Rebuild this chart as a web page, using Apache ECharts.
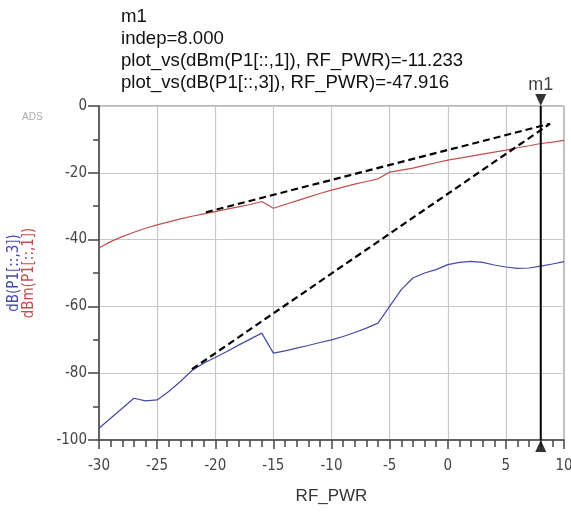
<!DOCTYPE html>
<html>
<head>
<meta charset="utf-8">
<script src="https://cdn.jsdelivr.net/npm/echarts@6/dist/echarts.min.js"></script>
<style>
  html, body { margin: 0; padding: 0; background: #fff; }
  #chart { width: 571px; height: 515px; }
</style>
</head>
<body>
<div id="chart"></div>
<script>
// RF input power sweep (dBm)
const rfPwr = [-30, -29, -28, -27, -26, -25, -24, -23, -22, -21, -20, -19, -18, -17, -16, -15,
  -14, -13, -12, -11, -10, -9, -8, -7, -6, -5, -4, -3, -2, -1, 0, 1, 2, 3, 4, 5, 6, 7, 8, 9, 10];
// Fundamental output, dBm(P1[::,1])
const fundDbm = [-42.5, -40.6, -39.1, -37.8, -36.6, -35.6, -34.7, -33.8, -33.0, -32.3, -31.6, -30.9,
  -30.2, -29.5, -28.6, -30.6, -29.5, -28.4, -27.3, -26.2, -25.2, -24.3, -23.4, -22.6, -21.8, -19.8,
  -19.2, -18.6, -17.8, -17.0, -16.2, -15.6, -15.0, -14.4, -13.8, -13.2, -12.5, -11.9, -11.233, -10.8, -10.3];
// Third harmonic, dB(P1[::,3])
const thirdDb = [-96.5, -93.5, -90.5, -87.5, -88.3, -88.0, -85.5, -82.5, -79.2, -77.0, -75.3, -73.5,
  -71.6, -69.8, -68.0, -74.0, -73.3, -72.5, -71.7, -70.8, -70.0, -69.0, -67.8, -66.5, -65.0, -60.0,
  -55.0, -51.5, -50.0, -49.0, -47.5, -46.8, -46.5, -46.8, -47.6, -48.2, -48.6, -48.5, -47.916, -47.3, -46.6];
// Extrapolated small-signal slopes
const fundSlope = [[-20.8, -31.8], [8.8, -5.3]];
const thirdSlope = [[-22.0, -78.8], [8.8, -5.3]];
// Marker m1
const markerName = 'm1';
const markerX = 8;
// Axis extents and steps
const xRange = [-30, 10];
const yRange = [-100, 0];
const xStep = 5;
const yStep = 20;

const mi = rfPwr.indexOf(markerX);
const readout = [
  markerName,
  'indep=' + markerX.toFixed(3),
  'plot_vs(dBm(P1[::,1]), RF_PWR)=' + fundDbm[mi].toFixed(3),
  'plot_vs(dB(P1[::,3]), RF_PWR)=' + thirdDb[mi].toFixed(3)
].join('\n');

const pairs = (ys) => rfPwr.map((x, i) => [x, ys[i]]);
const FONT = 'Liberation Sans, Arial, sans-serif';
const NARROW = '"Liberation Sans Narrow", "DejaVu Sans Condensed", "Liberation Sans", sans-serif';

const chart = echarts.init(document.getElementById('chart'), null, { renderer: 'canvas' });
chart.setOption({
  animation: false,
  backgroundColor: '#ffffff',
  grid: {
    left: 99, right: 7, top: 106, bottom: 75,
    outerBoundsMode: 'none', containLabel: false,
    show: true, borderColor: '#777', borderWidth: 1
  },
  xAxis: {
    type: 'value', min: xRange[0], max: xRange[1], interval: xStep,
    name: 'RF_PWR', nameLocation: 'middle', nameGap: 48,
    nameTextStyle: { fontFamily: FONT, fontSize: 17, color: '#333' },
    axisLine: { show: true, onZero: false, lineStyle: { color: '#444', width: 1.5 } },
    axisTick: { show: true, length: 9, lineStyle: { color: '#444', width: 1.5 } },
    minorTick: { show: true, splitNumber: 5, length: 7, lineStyle: { color: '#444', width: 1.5 } },
    axisLabel: { margin: 19, fontFamily: NARROW, fontSize: 15, color: '#444' },
    splitLine: { show: true, lineStyle: { color: '#c8c8c8', width: 1.2 } }
  },
  yAxis: {
    type: 'value', min: yRange[0], max: yRange[1], interval: yStep,
    name: '{b|dB(P1[::,3])}\n{r|dBm(P1[::,1])}',
    nameLocation: 'middle', nameRotate: 90, nameGap: 62,
    nameTextStyle: {
      fontFamily: NARROW, fontSize: 15, lineHeight: 15,
      rich: {
        b: { fontFamily: NARROW, fontSize: 15, lineHeight: 15, color: '#4848a8' },
        r: { fontFamily: NARROW, fontSize: 15, lineHeight: 15, color: '#c05050' }
      }
    },
    axisLine: { show: true, onZero: false, lineStyle: { color: '#444', width: 1.5 } },
    axisTick: { show: true, length: 11, lineStyle: { color: '#444', width: 1.5 } },
    minorTick: { show: true, splitNumber: 2, length: 6, lineStyle: { color: '#444', width: 1.5 } },
    axisLabel: { margin: 12, fontFamily: NARROW, fontSize: 15, color: '#444' },
    splitLine: { show: true, lineStyle: { color: '#c8c8c8', width: 1.2 } }
  },
  graphic: [
    {
      type: 'text', left: 121, top: 6,
      style: { text: readout, font: '18.6px ' + FONT, lineHeight: 22, fill: '#111' }
    },
    {
      type: 'text', left: 22, top: 112,
      style: { text: 'ADS', font: '10px ' + FONT, fill: '#aaa' }
    }
  ],
  series: [
    {
      type: 'line', data: pairs(fundDbm), showSymbol: false, symbol: 'none',
      lineStyle: { color: '#c05050', width: 1.2 }, z: 3
    },
    {
      type: 'line', data: pairs(thirdDb), showSymbol: false, symbol: 'none',
      lineStyle: { color: '#4848a8', width: 1.2 }, z: 3
    },
    {
      type: 'line', data: fundSlope, symbol: 'none',
      lineStyle: { color: '#000', width: 2.2, type: [7, 4] }, z: 4
    },
    {
      type: 'line', data: thirdSlope, symbol: 'none',
      lineStyle: { color: '#000', width: 2.2, type: [7, 4] }, z: 4
    },
    {
      // marker m1 vertical readout line
      type: 'line', data: [[markerX, yRange[1]], [markerX, yRange[0]]], symbol: 'none',
      lineStyle: { color: '#000', width: 2 }, z: 5
    },
    {
      type: 'scatter', clip: false, z: 6,
      data: [
        { value: [markerX, yRange[1]], symbolRotate: 180, symbolOffset: [0, -6],
          label: { show: true, position: 'top', distance: 0, formatter: markerName,
            fontFamily: FONT, fontSize: 18, color: '#111' } },
        { value: [markerX, yRange[0]], symbolOffset: [0, 6] }
      ],
      symbol: 'triangle', symbolSize: [11, 12],
      itemStyle: { color: '#000' }
    }
  ]
});
</script>
</body>
</html>
